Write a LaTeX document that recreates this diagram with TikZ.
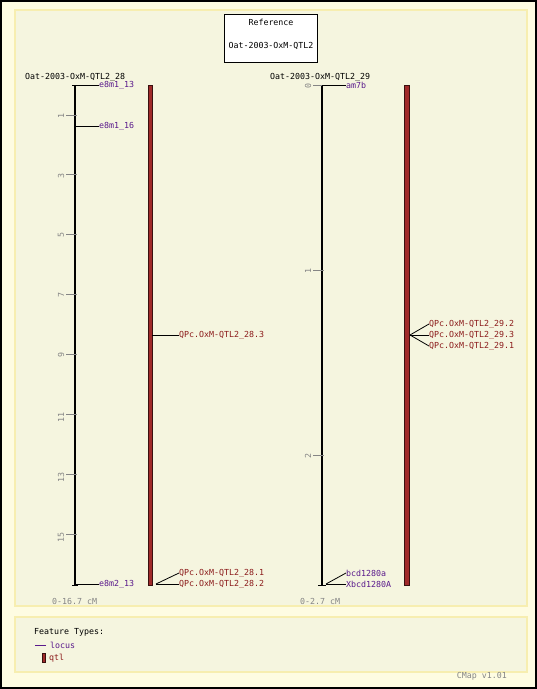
\documentclass[tikz,border=0pt]{standalone}
\usepackage{fontspec}
\setmonofont{DejaVu Sans Mono}
\usetikzlibrary{positioning}
\definecolor{outerbg}{HTML}{FEFCE2}
\definecolor{panelbg}{HTML}{F5F5DF}
\definecolor{panelline}{HTML}{F7EEB0}
\definecolor{locuscol}{HTML}{5A1A8C}
\definecolor{qtlcol}{HTML}{8B1A1A}
\definecolor{qtlfill}{HTML}{A02A2A}
\definecolor{qtledge}{HTML}{3A1010}
\definecolor{scalecol}{HTML}{858585}

\begin{document}
\begin{tikzpicture}[x=1pt,y=-1pt,
  font=\ttfamily\fontsize{8.3}{10}\selectfont,
  panel/.style={fill=panelbg, draw=panelline, line width=1.5pt},
  chrom/.style={line width=2pt, black},
  qtlbar/.style={fill=qtlfill, draw=qtledge, line width=0.6pt},
  tickmark/.style={scalecol, line width=0.8pt},
  scalenum/.style={text=scalecol, rotate=90, anchor=east, inner sep=0pt},
  maptitle/.style={inner sep=0pt, anchor=west},
  locus/.style={inner sep=0pt, anchor=west, text=locuscol},
  qtlname/.style={inner sep=0pt, anchor=west, text=qtlcol},
  link/.style={line width=0.8pt, black}]

 % Background and panels
 \useasboundingbox (0,0) rectangle (537,689);
 \fill[outerbg] (0,0) rectangle (537,689);
 \draw[line width=2pt] (1,1) rectangle (536,688);
 \draw[panel] (15,10) rectangle (527,606);
 \draw[panel] (15,617) rectangle (527,672);

 % Reference box
 \node[draw=black,
       fill=white,
       line width=1pt,
       minimum width=93pt,
       minimum height=48pt] (ref) at (271,38) {};
 \node (refname) at (271,22) {Reference};
 \node (refset) at (271,46) {Oat-2003-OxM-QTL2};

 % Map 28
 \node[maptitle] (map28) at (25,77) {Oat-2003-OxM-QTL2\_28};
 \coordinate (m28top) at (75,85);
 \coordinate (m28bot) at (75,585);
 \draw[chrom] (m28top) -- (m28bot);
 \draw[link] ([xshift=-3pt]m28top) -- ([xshift=3pt]m28top);
 \draw[link] ([xshift=-3pt]m28bot) -- ([xshift=3pt]m28bot);
 \foreach \v in {1,3,...,15} {
   \pgfmathsetmacro{\ty}{85+\v*29.94}
   \draw[tickmark] (66,\ty) -- (77,\ty);
   \node[scalenum] at (61,\ty-2) {\v};
 }
 \node[text=scalecol, anchor=west, inner sep=0pt] (range28) at (52,601) {0-16.7 cM};

 % Loci on map 28
 \node[locus] (l13) at (99,85) {e8m1\_13};
 \node[locus] (l16) at (99,126) {e8m1\_16};
 \node[locus] (l213) at (99,584) {e8m2\_13};
 \draw[link] (l13.west) -- (l13.west -| m28top);
 \draw[link] (l16.west) -- (l16.west -| m28top);
 \draw[link] (l213.west) -- (l213.west -| m28top);

 % QTL on map 28
 \node[qtlbar, inner sep=0pt, minimum width=4pt, minimum height=500pt] (bar28) at (150,335) {};
 \node[qtlname] (q283) at (179,335) {QPc.OxM-QTL2\_28.3};
 \node[qtlname] (q281) at (179,573) {QPc.OxM-QTL2\_28.1};
 \node[qtlname] (q282) at (179,584) {QPc.OxM-QTL2\_28.2};
 \coordinate (f28) at (156,584);
 \draw[link] (q283.west) -- (q283.west -| bar28.east);
 \draw[link] (f28) -- (q281.west);
 \draw[link] (f28) -- (q282.west);

 % Map 29
 \node[maptitle] (map29) at (270,77) {Oat-2003-OxM-QTL2\_29};
 \coordinate (m29top) at (322,85);
 \coordinate (m29bot) at (322,585);
 \draw[chrom] (m29top) -- (m29bot);
 \draw[link] ([xshift=-4pt]m29top) -- ([xshift=4pt]m29top);
 \draw[link] ([xshift=-4pt]m29bot) -- ([xshift=4pt]m29bot);
 \foreach \v in {0,1,2} {
   \pgfmathsetmacro{\ty}{85+\v*185.2}
   \draw[tickmark] (313,\ty) -- (324,\ty);
   \node[scalenum] at (308,\ty-2) {\v};
 }
 \node[text=scalecol, anchor=west, inner sep=0pt] (range29) at (300,601) {0-2.7 cM};

 % Loci on map 29
 \node[locus] (am7b) at (346,85) {am7b};
 \node[locus] (bcda) at (346,573) {bcd1280a};
 \node[locus] (xbcd) at (346,584) {Xbcd1280A};
 \coordinate (f29) at (326,584);
 \draw[link] (am7b.west) -- (am7b.west -| m29top);
 \draw[link] (f29) -- (bcda.west);
 \draw[link] (f29) -- (xbcd.west);

 % QTL on map 29
 \node[qtlbar, inner sep=0pt, minimum width=4.5pt, minimum height=500pt] (bar29) at (407,335) {};
 \node[qtlname] (q292) at (429,324) {QPc.OxM-QTL2\_29.2};
 \node[qtlname] (q293) at (429,335) {QPc.OxM-QTL2\_29.3};
 \node[qtlname] (q291) at (429,346) {QPc.OxM-QTL2\_29.1};
 \coordinate (f29q) at (410,335);
 \draw[link] (f29q) -- (q292.west);
 \draw[link] (f29q) -- (q293.west);
 \draw[link] (f29q) -- (q291.west);

 % Legend
 \node[anchor=west, inner sep=0pt] (ftypes) at (34,632) {Feature Types:};
 \node[locus] (leglocus) at (50,645) {locus};
 \draw[locuscol, line width=0.8pt] ([xshift=-4pt]leglocus.west) -- ++(-11,0);
 \node[qtlname] (legqtl) at (49,658) {qtl};
 \node[qtlbar, inner sep=0pt, minimum width=3pt, minimum height=9pt, left=3pt of legqtl] (legbar) {};
 \node[text=scalecol, anchor=east, inner sep=0pt] (cmapver) at (507,676) {CMap v1.01};
\end{tikzpicture}
\end{document}
